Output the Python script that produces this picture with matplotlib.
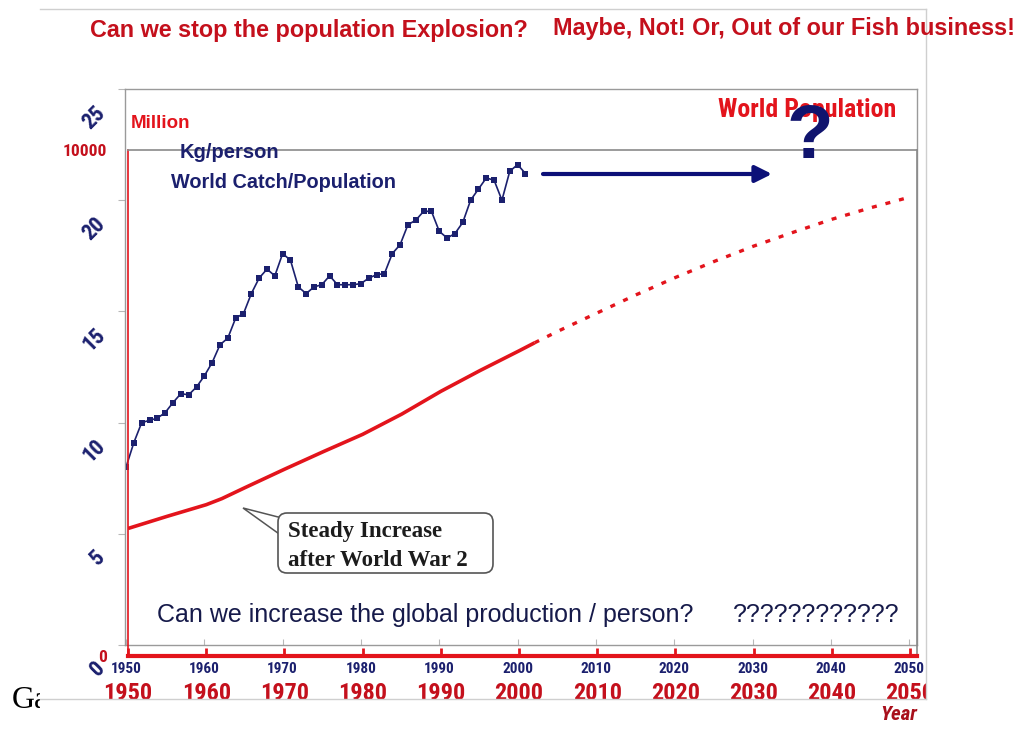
import matplotlib
matplotlib.use('Agg')
import matplotlib.pyplot as plt
from matplotlib import font_manager as fm
from matplotlib.patches import Rectangle, FancyBboxPatch, Polygon, FancyArrowPatch
from matplotlib.lines import Line2D
from matplotlib.transforms import ScaledTranslation, Affine2D

# ---------------- data ----------------
catch_years = list(range(1950, 2002))
catch_kg = [8.0, 9.1, 10.0, 10.1, 10.2, 10.45, 10.9, 11.3, 11.25, 11.6,
            12.1, 12.7, 13.5, 13.8, 14.7, 14.9, 15.8, 16.5, 16.9, 16.6,
            17.6, 17.3, 16.1, 15.8, 16.1, 16.2, 16.6, 16.2, 16.2, 16.2,
            16.25, 16.5, 16.65, 16.7, 17.6, 18.0, 18.9, 19.1, 19.5, 19.5,
            18.6, 18.3, 18.5, 19.0, 20.0, 20.5, 21.0, 20.9, 20.0, 21.3,
            21.6, 21.2]

pop_years = [1950, 1955, 1960, 1962, 1965, 1970, 1975, 1980, 1985, 1990, 1995, 2000, 2002]
pop_million = [2520, 2760, 2990, 3110, 3330, 3690, 4040, 4380, 4780, 5230, 5640, 6030, 6190]

proj_years = [2002, 2005, 2010, 2015, 2020, 2025, 2030, 2035, 2040, 2045, 2050]
proj_million = [6190, 6420, 6780, 7140, 7480, 7800, 8100, 8370, 8630, 8860, 9070]

decades = list(range(1950, 2051, 10))
decade_labels = [str(d) for d in decades]
kg_ticks = [0, 5, 10, 15, 20, 25]
kg_tick_labels = ['0', '5', '10', '15', '20', '25']
pop_ticks = [0, 10000]
pop_tick_labels = ['0', '10000']

# ---------------- fonts ----------------
avail = {f.name for f in fm.fontManager.ttflist}
def pick(*names):
    for n in names:
        if n in avail:
            return n
    return 'DejaVu Sans'
SANS = pick('Liberation Sans', 'Arial', 'DejaVu Sans')
NARROW = pick('Liberation Sans Narrow', 'DejaVu Sans Condensed', 'Roboto Condensed', SANS)
SERIF = pick('Liberation Serif', 'DejaVu Serif')

# ---------------- colours ----------------
RED = '#e3141c'
DARKRED = '#c4101c'
NAVY = '#1b206e'
GREY = '#9a9a9a'

W, H = 1021, 733
fig = plt.figure(figsize=(W / 100, H / 100), dpi=100)
# transform in reference pixel coordinates (origin top-left)
T = Affine2D().scale(1 / W, -1 / H).translate(0, 1) + fig.transFigure

def rect(x0, y0, x1, y1):
    return [x0 / W, 1 - y1 / H, (x1 - x0) / W, (y1 - y0) / H]

# page remnants: "Ga" text hidden by the picture
fig.text(12, 708, 'Ga', transform=T, family=SERIF, fontsize=23, color='black',
         va='baseline', ha='left', zorder=0.5)
fig.add_artist(Rectangle((40, 0), W - 40, H, transform=T, fc='white', ec='none', zorder=1))

# ---------------- axes: kg/person ----------------
ax_kg = fig.add_axes(rect(125, 89, 917, 645))
ax_kg.set_zorder(5)
ax_kg.set_xlim(1949.87, 2051.0)
ax_kg.set_ylim(0, 25)
for s in ax_kg.spines.values():
    s.set_color(GREY)
    s.set_linewidth(1.0)
ax_kg.plot(catch_years, catch_kg, color=NAVY, lw=1.2, marker='s', ms=4, mew=0)
ax_kg.set_xticks(decades)
ax_kg.set_xticklabels(decade_labels, family=NARROW, fontweight='bold', fontsize=11, color=NAVY)
ax_kg.tick_params(axis='x', direction='in', length=4, color='#b8b8b8', pad=12)
ax_kg.set_yticks(kg_ticks)
ax_kg.set_yticklabels(kg_tick_labels, family=NARROW, fontweight='bold', fontsize=16,
                      color=NAVY, rotation=45)
ax_kg.tick_params(axis='y', direction='out', length=5, color='#b8b8b8', pad=6)
off = ScaledTranslation(0, -0.21, fig.dpi_scale_trans)
for lab in ax_kg.get_yticklabels():
    lab.set_transform(lab.get_transform() + off)

# ---------------- axes: population ----------------
ax_pop = fig.add_axes(rect(128, 150, 917, 656))
ax_pop.set_zorder(6)
ax_pop.patch.set_visible(False)
ax_pop.set_xlim(1950, 2050.9)
ax_pop.set_ylim(0, 10000)
ax_pop.spines['left'].set_color(RED)
ax_pop.spines['left'].set_linewidth(1.2)
ax_pop.spines['bottom'].set_color(RED)
ax_pop.spines['bottom'].set_linewidth(3.0)
ax_pop.spines['top'].set_color('#8a8a8a')
ax_pop.spines['right'].set_color('#8a8a8a')
ax_pop.spines['top'].set_linewidth(1.2)
ax_pop.spines['right'].set_linewidth(1.2)
ax_pop.plot(pop_years, pop_million, color=RED, lw=2.6, solid_capstyle='butt')
ax_pop.plot(proj_years, proj_million, color=RED, lw=2.4, ls=(0, (1.5, 2.7)))
ax_pop.set_xticks(decades)
ax_pop.set_xticklabels(decade_labels, family=NARROW, fontweight='bold', fontsize=17.5, color=DARKRED)
ax_pop.tick_params(axis='x', direction='in', length=6, width=2, color=RED, pad=18.5)
ax_pop.set_yticks(pop_ticks)
ax_pop.set_yticklabels(pop_tick_labels, family=NARROW, fontweight='bold', fontsize=12.5, color=DARKRED)
ax_pop.tick_params(axis='y', length=0, pad=15)

# cover for clipped right edge of the picture
fig.add_artist(Rectangle((926, 45), W - 926, H - 45, transform=T, fc='white', ec='none', zorder=8))

# picture frame lines
for (x0, y0, x1, y1) in [(40, 9, 926, 9), (926, 9, 926, 699), (40, 699, 926, 699)]:
    fig.add_artist(Line2D([x0, x1], [y0, y1], transform=T, color='#cfcfcf', lw=1.0, zorder=9))

# ---------------- texts ----------------
fig.text(90, 37, 'Can we stop the population Explosion?', transform=T, family=SANS,
         fontweight='bold', fontsize=16.8, color=DARKRED, va='baseline', ha='left', zorder=10)
fig.text(553, 35, 'Maybe, Not! Or, Out of our Fish business!', transform=T, family=SANS,
         fontweight='bold', fontsize=16.8, color=DARKRED, va='baseline', ha='left', zorder=10)
fig.text(131, 123, 'Million', transform=T, family=SANS, fontweight='bold', fontsize=13.5,
         color=RED, va='center', ha='left', zorder=10)
fig.text(718, 110, 'World Population', transform=T, family=NARROW, fontweight='bold',
         fontsize=18.6, color=RED, va='center', ha='left', zorder=10)
fig.text(180, 153, 'Kg/person', transform=T, family=SANS, fontweight='bold', fontsize=14.5,
         color=NAVY, va='center', ha='left', zorder=10)
fig.text(171, 182, 'World Catch/Population', transform=T, family=SANS, fontweight='bold',
         fontsize=14.3, color=NAVY, va='center', ha='left', zorder=10)
fig.text(810, 139, '?', transform=T, family=SANS, fontweight='bold', fontsize=55,
         color='#10146e', va='center', ha='center', zorder=11)
fig.text(157, 622, 'Can we increase the global production / person?', transform=T,
         family=SANS, fontsize=18, color='#161a4a', va='baseline', ha='left', zorder=10)
fig.text(733, 622, '????????????', transform=T, family=SANS, fontsize=18,
         color='#161a4a', va='baseline', ha='left', zorder=10)
fig.text(880, 714, 'Year', transform=T, family=NARROW, fontweight='bold', style='italic',
         fontsize=15, color='#a8101c', va='center', ha='left', zorder=10)

# blue arrow
fig.add_artist(FancyArrowPatch(
    (543, 174), (772, 174), transform=T, arrowstyle='-|>,head_length=10,head_width=5',
    color='#0c1078', lw=3, shrinkA=0, shrinkB=0, zorder=10))

# callout
fig.add_artist(Polygon([(243, 508), (282, 518), (282, 536)], closed=True, transform=T,
                       fc='white', ec='#555555', lw=1.1, zorder=11))
fig.add_artist(FancyBboxPatch((278, 513), 215, 60, transform=T,
                              boxstyle='round,pad=0,rounding_size=9',
                              fc='white', ec='#555555', lw=1.2, zorder=12))
fig.text(288, 531, 'Steady Increase', transform=T, family=SERIF, fontweight='bold',
         fontsize=16.5, color='#1c1c1c', va='center', ha='left', zorder=13)
fig.text(288, 561, 'after World War 2', transform=T, family=SERIF, fontweight='bold',
         fontsize=16.5, color='#1c1c1c', va='center', ha='left', zorder=13)

fig.savefig('out.png', dpi=100, facecolor='white')
